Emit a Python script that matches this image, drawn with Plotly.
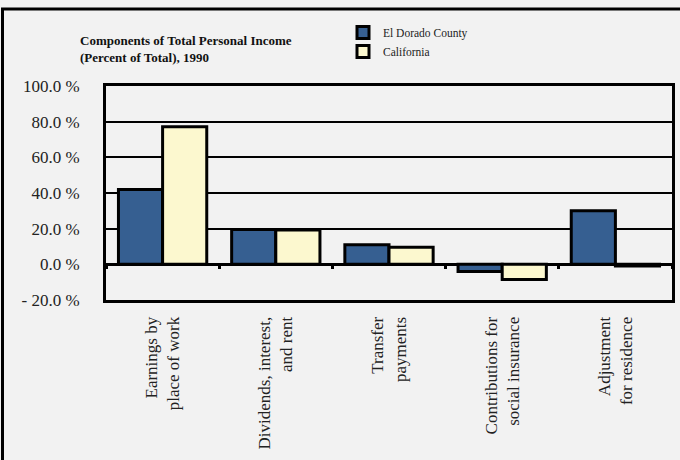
import plotly.graph_objects as go

categories = [
    "Earnings by<br>place of work",
    "Dividends, interest,<br>and rent",
    "Transfer<br>payments",
    "Contributions for<br>social insurance",
    "Adjustment<br>for residence",
]
el_dorado = [42.0, 19.5, 11.0, -4.0, 30.0]
california = [77.2, 19.3, 9.6, -8.5, -1.0]
y_tickvals = [-20, 0, 20, 40, 60, 80, 100]
y_ticktext = ["- 20.0 %", "0.0 %", "20.0 %", "40.0 %", "60.0 %", "80.0 %", "100.0 %"]

FONT = "Liberation Serif"
BLUE = "#365f91"
YELLOW = "#fcf8cf"
BG = "#f2f2f2"

fig = go.Figure()
fig.add_trace(go.Bar(x=categories, y=el_dorado, name="El Dorado County",
                     marker=dict(color=BLUE, line=dict(color="black", width=3))))
fig.add_trace(go.Bar(x=categories, y=california, name="California",
                     marker=dict(color=YELLOW, line=dict(color="black", width=3))))
# helper trace for tick marks on the zero line
fig.add_trace(go.Scatter(x=categories, y=[None] * len(categories), xaxis="x2",
                         showlegend=False, hoverinfo="skip"))

ymin, ymax = -20, 100
zero_pos = (0 - ymin) / (ymax - ymin)

fig.update_layout(
    width=680, height=460,
    margin=dict(l=106, r=8, t=86, b=160, autoexpand=False),
    paper_bgcolor=BG, plot_bgcolor=BG,
    font=dict(family=FONT, size=14, color="#222"),
    barmode="group", bargap=0.22, bargroupgap=0,
    title=dict(text="<b>Components of Total Personal Income<br>(Percent of Total), 1990</b>",
               x=80 / 680, xanchor="left", y=1 - 45 / 460, yanchor="top",
               font=dict(family=FONT, size=13, color="#111")),
    legend=dict(xref="container", yref="container", x=343 / 680, y=1 - 18 / 460,
                xanchor="left", yanchor="top", bgcolor="rgba(0,0,0,0)",
                font=dict(family=FONT, size=11.5, color="#222"), tracegroupgap=0,
                itemwidth=30),
    xaxis=dict(type="category", showgrid=False, showline=True, linecolor="black",
               linewidth=3, mirror=True, tickangle=-90, ticks="", automargin=False,
               ticklabelstandoff=7, tickfont=dict(family=FONT, size=17, color="#222")),
    xaxis2=dict(type="category", overlaying="x", anchor="free", position=zero_pos,
                matches="x", showgrid=False, showline=False, showticklabels=False,
                ticks="outside", tickson="boundaries", ticklen=4, tickwidth=3,
                tickcolor="black", automargin=False),
    yaxis=dict(range=[ymin, ymax], tickvals=y_tickvals, ticktext=y_ticktext,
               showgrid=True, gridcolor="black", gridwidth=2, automargin=False,
               zeroline=True, zerolinecolor="black", zerolinewidth=3,
               showline=True, linecolor="black", linewidth=3, mirror=True,
               ticks="", ticklabelstandoff=20,
               tickfont=dict(family=FONT, size=17, color="#222")),
    shapes=[dict(type="rect", xref="paper", yref="paper",
                 x0=(2.5 - 106) / 566, x1=(700 - 106) / 566,
                 y0=(300 - 480) / 214, y1=(300 - 9) / 214,
                 line=dict(color="black", width=3), layer="below")],
)

fig.write_html("out.html",
               config={"displayModeBar": False},
               post_script="document.body.style.margin='0px';")
